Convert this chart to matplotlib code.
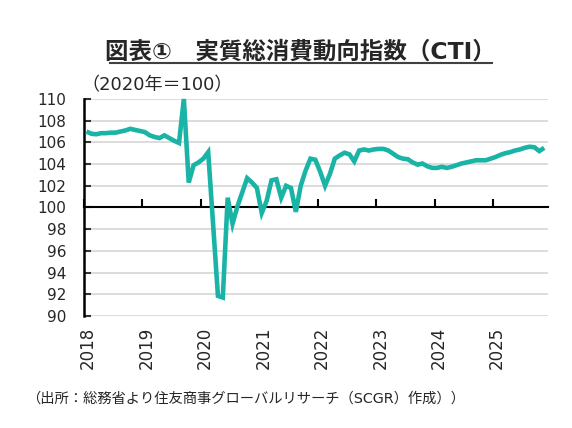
import matplotlib
matplotlib.use('Agg')
import matplotlib.pyplot as plt
from matplotlib.lines import Line2D
import numpy as np

# 数字・英字はDejaVu、日本語はNoto CJKにフォールバック
plt.rcParams['font.family'] = ['DejaVu Sans', 'Noto Sans CJK JP']

# 月次データ（2018年1月～2025年11月）
start_year = 2018
cti = [
    # 2018
    107.0, 106.8, 106.75, 106.85, 106.85, 106.9, 106.9, 107.0, 107.1, 107.25, 107.15, 107.05,
    # 2019
    106.95, 106.65, 106.5, 106.4, 106.65, 106.4, 106.15, 105.95, 110.0, 102.3, 103.9, 104.15,
    # 2020
    104.5, 105.1, 98.5, 91.85, 91.7, 100.9, 98.5, 100.1, 101.4, 102.7, 102.3, 101.8,
    # 2021
    99.5, 100.6, 102.5, 102.6, 100.9, 102.0, 101.8, 99.6, 102.0, 103.4, 104.5, 104.4,
    # 2022
    103.3, 102.0, 103.1, 104.5, 104.8, 105.05, 104.9, 104.25, 105.25, 105.35, 105.25, 105.35,
    # 2023
    105.4, 105.4, 105.25, 104.95, 104.65, 104.5, 104.45, 104.15, 103.95, 104.05, 103.8, 103.65,
    # 2024
    103.65, 103.75, 103.65, 103.75, 103.9, 104.05, 104.15, 104.25, 104.35, 104.35, 104.35, 104.5,
    # 2025
    104.65, 104.85, 105.0, 105.1, 105.25, 105.35, 105.5, 105.6, 105.55, 105.2, 105.5,
]
years = list(range(2018, 2026))
y_ticks = list(range(90, 111, 2))

title = '図表①　実質総消費動向指数（CTI）'
unit_label = '（2020年＝100）'
source = '（出所：総務省より住友商事グローバルリサーチ（SCGR）作成））'

# 月の中央に点を置く
x = start_year + (np.arange(len(cti)) + 0.5) / 12

fig = plt.figure(figsize=(5.72, 4.28), dpi=100)
ax = fig.add_axes([0.1469, 0.2617, 0.958 - 0.1469, 0.7687 - 0.2617])

for yv in y_ticks:
    if yv != 100:
        ax.axhline(yv, color='#D9D9D9', lw=1.3, zorder=1)

ax.plot(x, cti, color='#19B4A6', lw=3.3, solid_joinstyle='miter',
        solid_capstyle='butt', zorder=3, clip_on=False)

ax.set_xlim(2018, 2025.94)
ax.set_ylim(90, 110)
ax.set_yticks(y_ticks)
ax.set_xticks(years)

# 横軸は100の位置
ax.spines['bottom'].set_position(('data', 100))
ax.spines['bottom'].set_linewidth(1.5)
ax.spines['left'].set_linewidth(1.8)
ax.spines['top'].set_visible(False)
ax.spines['right'].set_visible(False)
ax.tick_params(axis='x', direction='in', length=6, width=1.5, labelbottom=False)
ax.tick_params(axis='y', direction='in', length=5, width=1.5, pad=12.5,
               labelsize=11, colors='#333333', labelcolor='#262626')

for yr in years:
    ax.text(yr + 0.07, -0.05, str(yr), transform=ax.get_xaxis_transform(),
            rotation=90, ha='center', va='top', fontsize=12, color='#262626')

fig.text(0.526, 0.879, title, ha='center', va='center', fontsize=16.9,
         fontweight='bold', color='#262626')
fig.add_artist(Line2D([0.192, 0.860], [0.8535, 0.8535], color='#404040', lw=1.5))
fig.text(0.143, 0.8014, unit_label, ha='left', va='center', fontsize=13, color='#262626')
fig.text(0.045, 0.068, source, ha='left', va='center', fontsize=10.3, color='#262626')

fig.savefig('out.png', dpi=100)
